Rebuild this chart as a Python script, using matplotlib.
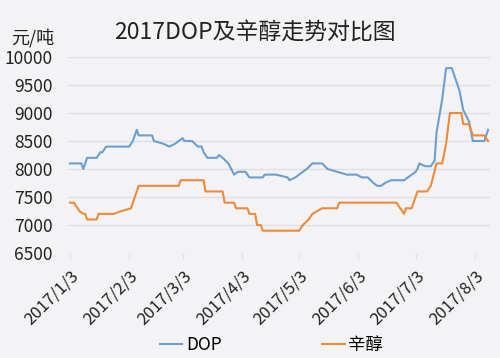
import matplotlib
matplotlib.use("Agg")
import matplotlib.pyplot as plt
import pandas as pd

plt.rcParams['font.family'] = ['Noto Sans CJK SC', 'DejaVu Sans']

# DOP price, yuan/ton
dop_dates = ["2017-01-03", "2017-01-09", "2017-01-10", "2017-01-12", "2017-01-17",
             "2017-01-19", "2017-01-20", "2017-01-22", "2017-02-03", "2017-02-05",
             "2017-02-07", "2017-02-08", "2017-02-15", "2017-02-16", "2017-02-21",
             "2017-02-24", "2017-02-27", "2017-03-01", "2017-03-03", "2017-03-04",
             "2017-03-08", "2017-03-11", "2017-03-13", "2017-03-14", "2017-03-16",
             "2017-03-21", "2017-03-22", "2017-03-24", "2017-03-27", "2017-03-30",
             "2017-04-01", "2017-04-05", "2017-04-07", "2017-04-14", "2017-04-15",
             "2017-04-21", "2017-04-27", "2017-04-28", "2017-05-01", "2017-05-05",
             "2017-05-07", "2017-05-10", "2017-05-15", "2017-05-18", "2017-05-23",
             "2017-05-28", "2017-06-02", "2017-06-05", "2017-06-08", "2017-06-11",
             "2017-06-13", "2017-06-15", "2017-06-17", "2017-06-20", "2017-06-27",
             "2017-06-29", "2017-07-03", "2017-07-04", "2017-07-05", "2017-07-08",
             "2017-07-11", "2017-07-13", "2017-07-14", "2017-07-17", "2017-07-19",
             "2017-07-22", "2017-07-23", "2017-07-26", "2017-07-28", "2017-07-31",
             "2017-08-02", "2017-08-08", "2017-08-10"]
dop_values = [8100, 8100, 8000, 8200, 8200,
              8300, 8300, 8400, 8400, 8500,
              8700, 8600, 8600, 8500, 8450,
              8400, 8450, 8500, 8550, 8500,
              8500, 8400, 8400, 8300, 8200,
              8200, 8250, 8200, 8100, 7900,
              7950, 7950, 7850, 7850, 7900,
              7900, 7850, 7800, 7850, 7950,
              8000, 8100, 8100, 8000, 7950,
              7900, 7900, 7850, 7850, 7750,
              7700, 7700, 7750, 7800, 7800,
              7850, 7950, 8000, 8100, 8050,
              8050, 8150, 8650, 9250, 9800,
              9800, 9700, 9400, 9050, 8850,
              8500, 8500, 8700]

# octanol price, yuan/ton
oct_dates = ["2017-01-03", "2017-01-05", "2017-01-07", "2017-01-08", "2017-01-10",
             "2017-01-11", "2017-01-12", "2017-01-17", "2017-01-18", "2017-01-26",
             "2017-01-30", "2017-02-04", "2017-02-06", "2017-02-08", "2017-03-01",
             "2017-03-02", "2017-03-14", "2017-03-15", "2017-03-24", "2017-03-25",
             "2017-03-30", "2017-03-31", "2017-04-06", "2017-04-07", "2017-04-10",
             "2017-04-11", "2017-04-13", "2017-04-14", "2017-05-03", "2017-05-05",
             "2017-05-08", "2017-05-10", "2017-05-15", "2017-05-23", "2017-05-24",
             "2017-06-23", "2017-06-27", "2017-06-28", "2017-07-01", "2017-07-04",
             "2017-07-09", "2017-07-11", "2017-07-14", "2017-07-17", "2017-07-19",
             "2017-07-21", "2017-07-27", "2017-07-28", "2017-07-31", "2017-08-02",
             "2017-08-08", "2017-08-10"]
oct_values = [7400, 7400, 7300, 7250, 7200,
              7200, 7100, 7100, 7200, 7200,
              7250, 7300, 7500, 7700, 7700,
              7800, 7800, 7600, 7600, 7400,
              7400, 7300, 7300, 7200, 7200,
              7000, 7000, 6900, 6900, 7000,
              7100, 7200, 7300, 7300, 7400,
              7400, 7200, 7300, 7300, 7600,
              7600, 7700, 8100, 8100, 8450,
              9000, 9000, 8800, 8800, 8600,
              8600, 8500]

tick_dates = ["2017-01-03", "2017-02-03", "2017-03-03", "2017-04-03",
              "2017-05-03", "2017-06-03", "2017-07-03", "2017-08-03"]
y_ticks = [6500, 7000, 7500, 8000, 8500, 9000, 9500, 10000]

bg = "#f3f3f5"
fig = plt.figure(figsize=(5, 3.58), dpi=100, facecolor=bg)
ax = fig.add_axes([0.136, 0.293, 0.844, 0.548], facecolor=bg)

ax.plot(pd.to_datetime(dop_dates), dop_values, color="#6a9fd0", lw=1.5, label="DOP")
ax.plot(pd.to_datetime(oct_dates), oct_values, color="#ee8a3a", lw=1.5, label="辛醇")

ax.set_ylim(6500, 10000)
ax.set_yticks(y_ticks)
ax.set_xlim(pd.Timestamp("2017-01-02"), pd.Timestamp("2017-08-11"))
ticks = pd.to_datetime(tick_dates)
ax.set_xticks(ticks)
ax.set_xticklabels([f"{d.year}/{d.month}/{d.day}" for d in ticks],
                   rotation=45, ha="right", rotation_mode="anchor")
ax.grid(axis="y", color="#e0e0e3", lw=1)
ax.set_axisbelow(True)
for s in ax.spines.values():
    s.set_visible(False)
ax.tick_params(axis="y", length=0, labelsize=12.5, colors="#222222", pad=11)
ax.tick_params(axis="x", length=4, color="#e0e0e3", labelsize=12, colors="#222222", pad=6)

fig.text(0.51, 0.908, "2017DOP及辛醇走势对比图", ha="center", va="center",
         fontsize=16.5, color="#222222")
fig.text(0.066, 0.895, "元/吨", ha="center", va="center", fontsize=13, color="#222222")

fig.legend(loc="center", bbox_to_anchor=(0.543, 0.035), ncol=2, frameon=False,
           fontsize=12.5, handlelength=1.3, handletextpad=0.2, columnspacing=5.8)

fig.savefig("out.png", dpi=100, facecolor=bg)
